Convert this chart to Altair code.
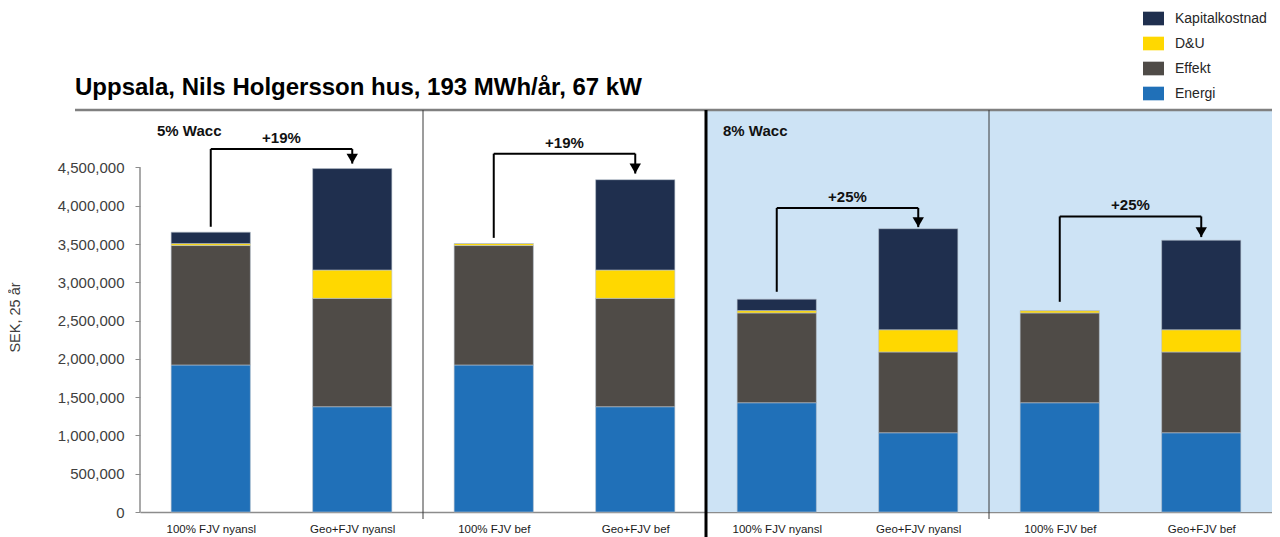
import json
import altair as alt
import pandas as pd

# ---------------- data ----------------
categories = ["100% FJV nyansl", "Geo+FJV nyansl", "100% FJV bef", "Geo+FJV bef",
              "100% FJV nyansl", "Geo+FJV nyansl", "100% FJV bef", "Geo+FJV bef"]
components = ["Kapitalkostnad", "D&U", "Effekt", "Energi"]
colors = ["#1f2f4e", "#ffd800", "#4f4b47", "#2070b8"]

energi = [1920000, 1375000, 1920000, 1375000, 1427000, 1035000, 1427000, 1035000]
effekt = [1560000, 1415000, 1560000, 1415000, 1173000, 1055000, 1173000, 1055000]
du = [25000, 370000, 26000, 370000, 30000, 290000, 30000, 290000]
kapital = [150000, 1325000, 0, 1180000, 150000, 1320000, 0, 1170000]

panel_labels = ["5% Wacc", "8% Wacc"]
panel_first = [0, 4]
panel_shaded = [False, True]

ann_from = [0, 2, 4, 6]
ann_to = [1, 3, 5, 7]
ann_text = ["+19%", "+19%", "+25%", "+25%"]
ann_start = [3725000, 3580000, 2876000, 2745000]
ann_level = [4740000, 4680000, 3970000, 3860000]
ann_tip = [4550000, 4420000, 3720000, 3590000]

y_ticks = list(range(0, 4500001, 500000))
y_max = 5250000
title_text = "Uppsala, Nils Holgersson hus, 193 MWh/år, 67 kW"
y_title = "SEK, 25 år"

FONT = "Liberation Sans"
W, H = 1132, 402
n = len(categories)

# ---------------- tables ----------------
series = {"Energi": energi, "Effekt": effekt, "D&U": du, "Kapitalkostnad": kapital}
stack_order = {"Energi": 0, "Effekt": 1, "D&U": 2, "Kapitalkostnad": 3}
rows = []
for i in range(n):
    for comp, vals in series.items():
        rows.append({"idx": i, "comp": comp, "value": vals[i], "ord": stack_order[comp]})
bars_df = pd.DataFrame(rows)

ann_df = pd.DataFrame({"a": ann_from, "b": ann_to, "label": ann_text,
                       "start": ann_start, "level": ann_level, "tip": ann_tip})
panel_df = pd.DataFrame({"label": panel_labels, "first": panel_first, "shaded": panel_shaded})
sep_df = pd.DataFrame({"pos": [k + 0.5 for k in range(1, n - 1, 2)]})
sep_df["thick"] = sep_df["pos"].isin([f - 0.5 for f in panel_first[1:]])
axis_df = pd.DataFrame({"y0": [0], "y1": [max(y_ticks)]})
one = pd.DataFrame({"t": [title_text]})

xscale = alt.Scale(domain=[-0.5, n - 0.5], zero=False, nice=False)
yscale = alt.Scale(domain=[0, y_max], nice=False, zero=True)

label_expr = json.dumps(categories) + "[datum.value]"

x_axis = alt.Axis(values=list(range(n)), labelExpr=label_expr, ticks=False, grid=False,
                  domainColor="#8c8c8c", domainWidth=1.5, labelFontSize=11.5, labelColor="#1a1a1a",
                  labelPadding=11, labelFlush=False, labelOverlap=False, title=None)
y_axis = alt.Axis(values=y_ticks, labelExpr="format(datum.value, ',.0f')", grid=False, domain=False,
                  tickColor="#8c8c8c", tickSize=5, labelPadding=11, labelFontSize=15,
                  labelColor="#404040", labelOverlap=False,
                  title=y_title, titleFontSize=14.5, titleFontWeight="normal", titleColor="#404040",
                  titleAngle=-90, titleX=-125, titleY=207, titleAlign="center",
                  titleBaseline="middle")

# shaded panel background (carries the axes)
shade = alt.Chart(panel_df).transform_filter("datum.shaded").transform_calculate(
    x0="datum.first - 0.5", x1=str(n - 0.5), y0="0", y1=str(y_max)
).mark_rect(color="#cde3f5").encode(
    x=alt.X("x0:Q", scale=xscale, axis=x_axis),
    x2="x1:Q",
    y=alt.Y("y0:Q", scale=yscale, axis=y_axis),
    y2="y1:Q",
)

bars = alt.Chart(bars_df).transform_stack(
    stack="value", groupby=["idx"], as_=["v0", "v1"], sort=[alt.SortField("ord", order="ascending")]
).transform_calculate(
    xl="datum.idx - 0.28", xr="datum.idx + 0.28"
).mark_bar(stroke="#b8c2cc", strokeWidth=0.6).encode(
    x=alt.X("xl:Q", scale=xscale),
    x2="xr:Q",
    y=alt.Y("v0:Q", scale=yscale),
    y2="v1:Q",
    color=alt.Color("comp:N", scale=alt.Scale(domain=components, range=colors),
                    legend=alt.Legend(orient="none", legendX=1003, legendY=-102, title=None,
                                      symbolType="M-1,-0.65H1V0.65H-1Z", symbolSize=441,
                                      symbolStrokeWidth=0, symbolOpacity=1, labelFontSize=14,
                                      labelColor="#262626", labelOffset=11, rowPadding=7,
                                      padding=0)),
)

yaxis_line = alt.Chart(axis_df).mark_rule(color="#8c8c8c", strokeWidth=1.5).encode(
    x=alt.value(0), y=alt.Y("y0:Q", scale=yscale), y2="y1:Q")

top_line = alt.Chart(one).mark_rule(color="#808080", strokeWidth=2.5).encode(
    x=alt.value(-65), x2=alt.value(W + 3), y=alt.value(0))

thin_sep = alt.Chart(sep_df).transform_filter("!datum.thick").mark_rule(
    color="#3a3a3a", strokeWidth=1).encode(
    x=alt.X("pos:Q", scale=xscale), y=alt.value(0), y2=alt.value(H + 7))

thick_sep = alt.Chart(sep_df).transform_filter("datum.thick").mark_rule(
    color="#000000", strokeWidth=3).encode(
    x=alt.X("pos:Q", scale=xscale), y=alt.value(0), y2=alt.value(H + 30))

panel_text = alt.Chart(panel_df).transform_calculate(xs="datum.first - 0.5").mark_text(
    align="left", baseline="middle", dx=17, font=FONT, fontSize=15, fontWeight="bold", color="#111111"
).encode(x=alt.X("xs:Q", scale=xscale), y=alt.value(21), text="label:N")

ann_base = alt.Chart(ann_df)
up = ann_base.mark_rule(color="#000000", strokeWidth=2).encode(
    x=alt.X("a:Q", scale=xscale), y=alt.Y("start:Q", scale=yscale), y2="level:Q")
across = ann_base.mark_rule(color="#000000", strokeWidth=2).encode(
    x=alt.X("a:Q", scale=xscale), x2="b:Q", y=alt.Y("level:Q", scale=yscale))
down = ann_base.mark_rule(color="#000000", strokeWidth=2).encode(
    x=alt.X("b:Q", scale=xscale), y=alt.Y("level:Q", scale=yscale), y2="tip:Q")
head = ann_base.mark_point(shape="triangle-down", filled=True, color="#000000", opacity=1,
                           size=130, yOffset=-5).encode(
    x=alt.X("b:Q", scale=xscale), y=alt.Y("tip:Q", scale=yscale))
ann_label = ann_base.transform_calculate(mid="(datum.a + datum.b) / 2").mark_text(
    baseline="middle", align="center", dy=-11, font=FONT, fontSize=15, fontWeight="bold", color="#111111"
).encode(x=alt.X("mid:Q", scale=xscale), y=alt.Y("level:Q", scale=yscale), text="label:N")

title = alt.Chart(one).mark_text(
    align="left", baseline="alphabetic", font=FONT, fontSize=24, fontWeight="bold", color="#000000"
).encode(x=alt.value(-65), y=alt.value(-15), text="t:N")

chart = alt.layer(
    shade, bars, yaxis_line, top_line, thin_sep, thick_sep, panel_text,
    up, across, down, head, ann_label, title
).properties(
    width=W, height=H,
    autosize=alt.AutoSizeParams(type="none"),
    padding={"left": 132, "top": 102, "right": 0, "bottom": 25},
).configure(font=FONT).configure_view(stroke=None)

chart.save("out.html", embed_options={"renderer": "svg", "actions": False})
